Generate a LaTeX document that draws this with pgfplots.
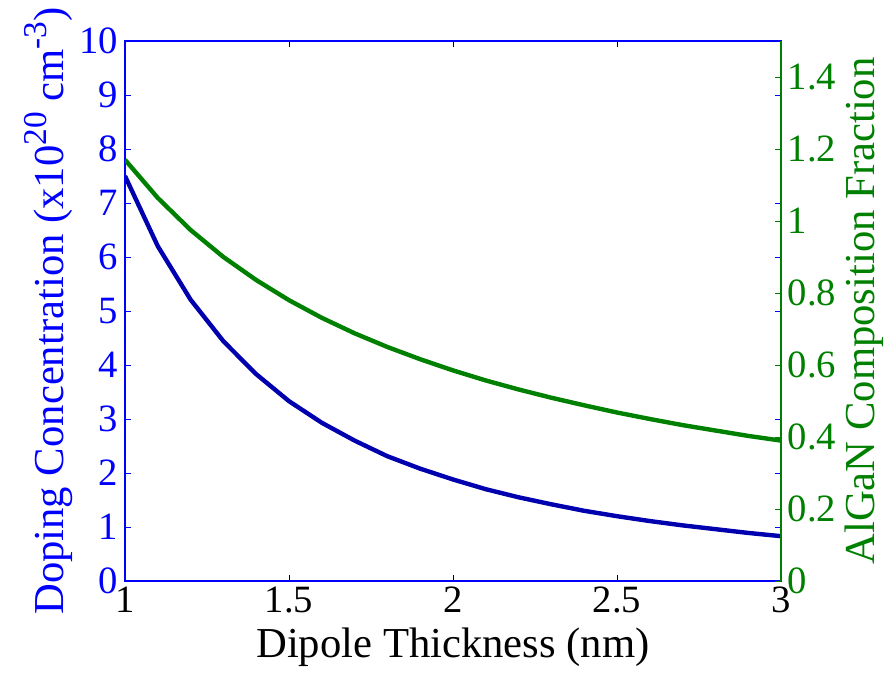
\documentclass[border=0pt]{standalone}
\usepackage{fontspec}
\setmainfont{Liberation Serif}
\usepackage{pgfplots}
\pgfplotsset{compat=1.18}
\definecolor{tblue}{RGB}{0,0,255}
\definecolor{lblue}{RGB}{0,0,175}
\definecolor{mgreen}{RGB}{0,128,0}
\newcommand{\supx}[1]{\raisebox{0.42em}{\fontsize{25}{25}\selectfont #1}}
\begin{document}
\begin{tikzpicture}
\begin{axis}[name=ax1, scale only axis, width=492pt, height=405pt,
  xmin=1, xmax=3, ymin=0, ymax=10,
  xtick={1,1.5,2,2.5,3}, ytick={0,1,2,3,4,5,6,7,8,9,10},
  xticklabels={1,1.5,2,2.5,3},
  tick align=inside, major tick length=4.5pt,
  axis line style={line width=0.8pt},
  y axis line style={tblue},
  ytick style={tblue, line width=0.6pt},
  xtick style={black, line width=0.6pt},
  /pgf/number format/assume math mode=true,
  tick label style={font=\fontsize{29}{29}\selectfont},
  yticklabel style={text=tblue, xshift=-1.5pt},
  xticklabel style={yshift=-1pt},
  xlabel={Dipole Thickness (nm)},
  ylabel={Doping Concentration (x10\supx{20} cm\supx{-3})},
  label style={font=\fontsize{32}{32}\selectfont},
  ylabel style={text=tblue, yshift=-2pt},
  xlabel style={yshift=-4pt},
]
\addplot[lblue, line width=3.3pt] coordinates {
(1.0,7.50) (1.1,6.20) (1.2,5.21) (1.3,4.44) (1.4,3.83) (1.5,3.33) (1.6,2.93)
(1.7,2.60) (1.8,2.31) (1.9,2.08) (2.0,1.88) (2.1,1.70) (2.2,1.55) (2.3,1.42)
(2.4,1.30) (2.5,1.20) (2.6,1.11) (2.7,1.03) (2.8,0.96) (2.9,0.89) (3.0,0.83)};
\end{axis}
\begin{axis}[scale only axis, width=492pt, height=405pt,
  xmin=1, xmax=3, ymin=0, ymax=1.5,
  axis x line=none, axis y line*=right,
  ytick={0,0.2,0.4,0.6,0.8,1,1.2,1.4},
  yticklabels={0,0.2,0.4,0.6,0.8,1,1.2,1.4},
  tick align=inside, major tick length=4.5pt,
  axis line style={line width=0.8pt, mgreen, -},
  ytick style={mgreen, line width=0.6pt},
  /pgf/number format/assume math mode=true,
  tick label style={font=\fontsize{29}{29}\selectfont},
  yticklabel style={text=mgreen, xshift=1.5pt},
  ylabel={AlGaN Composition Fraction},
  label style={font=\fontsize{32}{32}\selectfont},
  ylabel style={text=mgreen},
]
\addplot[mgreen, line width=3.3pt] coordinates {
(1.0,1.170) (1.1,1.064) (1.2,0.975) (1.3,0.900) (1.4,0.836) (1.5,0.780) (1.6,0.731)
(1.7,0.688) (1.8,0.650) (1.9,0.616) (2.0,0.585) (2.1,0.557) (2.2,0.532) (2.3,0.509)
(2.4,0.488) (2.5,0.468) (2.6,0.450) (2.7,0.433) (2.8,0.418) (2.9,0.403) (3.0,0.390)};
\end{axis}
\pgfresetboundingbox
\path (ax1.south west) ++(-93.75pt,-69pt) rectangle ++(666pt,504.75pt);
\end{tikzpicture}
\end{document}
